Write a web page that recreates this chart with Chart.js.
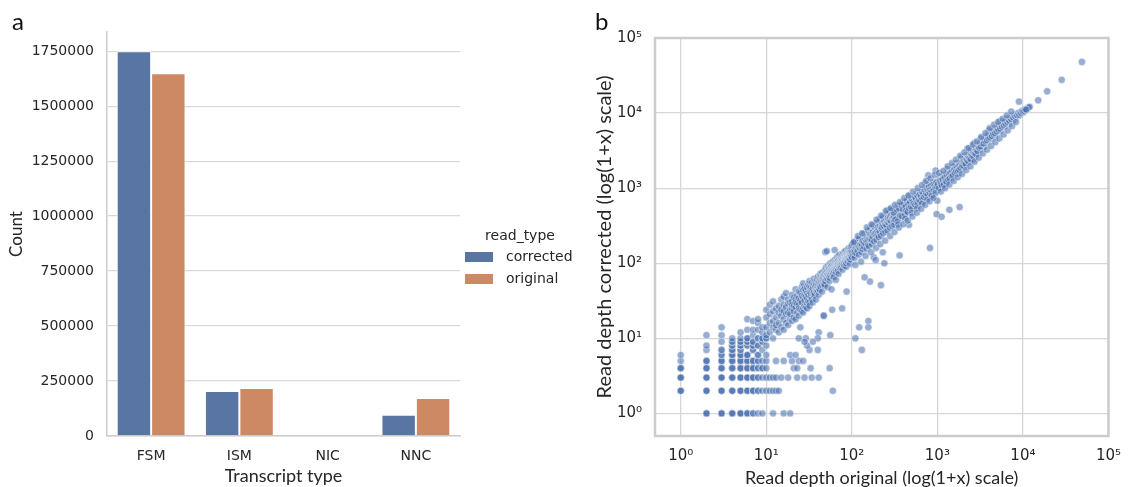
<!DOCTYPE html>
<html><head><meta charset="utf-8">
<script src="https://cdn.jsdelivr.net/npm/chart.js@4.4.0/dist/chart.umd.min.js"></script>
<style>
html,body{margin:0;padding:0;background:#fff;width:1132px;height:487px;overflow:hidden}
#wa{position:absolute;left:0;top:0;width:590px;height:487px}
#wb{position:absolute;left:590px;top:0;width:542px;height:487px}
</style></head><body>
<div id="wa"><canvas id="ca" width="590" height="487"></canvas></div>
<div id="wb"><canvas id="cb" width="542" height="487"></canvas></div>
<script>
// ---------- Panel a data ----------
const transcriptTypes = ['FSM', 'ISM', 'NIC', 'NNC'];
const readTypes = ['corrected', 'original'];
const countCorrected = [1750000, 205000, 0, 97000];
const countOriginal = [1650000, 218000, 0, 173000];
const countTicks = [0, 250000, 500000, 750000, 1000000, 1250000, 1500000, 1750000];
const countMax = 1837500;

// ---------- Panel b data ----------
const depthTicks = [1, 10, 100, 1000, 10000, 100000];
const depthTickLabels = ['10⁰', '10¹', '10²', '10³', '10⁴', '10⁵'];
const depthMin = 0.5;
const depthMax = 100000;
// low depths: [original, corrected, number of overlapping transcripts]
const depthLow = [
[1,2,3],[1,3,3],[1,4,3],[1,5,1],[1,6,1],
[2,1,3],[2,2,3],[2,3,3],[2,4,3],[2,5,3],[2,7,1],[2,8,1],[2,11,1],
[3,1,3],[3,2,3],[3,3,3],[3,4,3],[3,5,3],[3,6,2],[3,7,2],[3,9,1],[3,11,1],[3,14,1],
[4,1,3],[4,2,3],[4,3,3],[4,4,3],[4,5,3],[4,6,3],[4,7,3],[4,8,2],[4,9,2],[4,10,1],
[5,1,3],[5,2,3],[5,3,3],[5,4,3],[5,5,3],[5,6,3],[5,7,2],[5,8,2],[5,9,2],[5,10,1],[5,12,1],
[6,1,3],[6,2,3],[6,3,3],[6,4,3],[6,5,3],[6,6,3],[6,8,2],[6,9,2],[6,10,2],[6,13,1],[6,18,1],
[7,1,2],[7,2,3],[7,3,3],[7,4,3],[7,5,3],[7,7,2],[7,8,2],[7,9,2],[7,11,1],[7,13,1],[7,17,1],
[8,1,1],[8,2,2],[8,3,2],[8,4,2],[8,5,2],[8,6,2],[8,8,2],[8,10,2],[8,13,1],[8,16,1],[8,18,1],
[9,1,1],[9,2,1],[9,3,1],[9,4,2],[9,5,1],[9,7,1],[9,9,2],[9,10,2],[9,12,1],[9,14,1],
[10,2,1],[10,3,1],[10,4,1],[10,5,1],[10,6,1],[10,8,1],[10,10,2],
[11,2,1],[12,2,1],[13,2,1],[14,2,1],[12,1,1],[16,1,1],[19,1,1],
[11,3,1],[12,3,1],[13,3,1],[15,3,1],[18,3,1],[23,3,1],[28,3,1],[34,3,1],[41,3,1],[60,2,1],
[21,4,1],[23,4,1],[33,4,1],[55,4,1],[13,5,1],[16,5,1],[20,5,1],[24,5,1],[27,5,1],[19,6,1],[22,6,1],
[32,7,1],[40,7,1],[41,12,1],[56,11,1],[40,10,1],[29,10,1],[35,9,1],[30,8,1],[24,10,1],[28,9,1],
[110,10,1],[122,14,1],[131,7,1],[156,17,1],[156,14,1],[47,20,1]
];
// higher depths: [original, [corrected values at that original depth]]
const depthBand = [
[10,[11,14,19,24]],[11,[12,16,21,28]],[12,[10,14,17,23,31]],[13,[13,19,25,15]],[14,[12,16,22,27]],
[15,[14,20,24,33]],[16,[13,18,23,28,36]],[17,[16,21,26,40]],[18,[15,22,29,33]],[19,[18,24,30,21]],
[20,[17,25,31,38,28]],[21,[19,27,35,23]],[22,[18,26,33,45,30]],[23,[22,29,37]],[24,[20,28,34,42,25]],
[25,[24,32,41,14]],[26,[23,30,37,48]],[27,[25,35,44,54,22]],[28,[27,38,46,32]],[29,[26,36,43]],
[30,[29,40,48,34,25]],[31,[31,38,52]],[32,[30,42,49,58,27]],
[33,[36,47,40]],[34,[33,44,55]],[35,[39,50,46,30]],[36,[37,41,53,62]],[37,[38,48,57]],[38,[44,55,51,33]],
[39,[46,60,42]],[40,[43,54,66,50]],[41,[47,58,38]],[42,[44,52,64,56,45]],[43,[49,61,72]],[44,[55,66,59]],
[45,[51,63,75,42]],[46,[57,68,62]],[47,[54,72,65,20]],[48,[50,60,70,80,52]],[49,[58,74,141]],[50,[63,78,68,88]],
[51,[66,75,145]],[52,[62,80,71,48]],[53,[70,84,93]],[54,[67,77,88]],[55,[58,73,85,64]],[56,[70,90,78,100]],
[57,[76,86,95]],[58,[74,92,81,45]],[59,[80,96,24]],[60,[77,88,105,66]],[61,[83,94,72]],[62,[66,80,100,88]],
[63,[86,97,150,110]],[64,[84,92,104]],[65,[88,101,76,60]],[66,[90,109,84]],[67,[92,102,120]],[68,[88,105,96]],
[69,[95,112,80]],[70,[72,93,108,125,100]],[72,[98,114,87,130]],[73,[102,92]],[74,[97,118,108]],[75,[103,125,88]],
[76,[106,115,95]],[77,[101,122,25]],[78,[82,108,131,112]],[80,[106,118,138,96]],[81,[112,100]],[82,[116,128,92]],
[83,[110,142,121]],[84,[118,106,130]],[85,[113,125,147]],[86,[90,120,100]],[87,[116,133,42]],[88,[124,140,110]],
[89,[121,129]],[90,[126,145,117,105]],[92,[124,137,158]],[93,[130,112]],[94,[127,141,119]],[95,[98,134,150]],
[96,[129,142,112]],[98,[136,148,124,165]],
[100,[120,142,175]],[104,[141,128,182]],[108,[118,152,195,140]],[113,[160,135]],[117,[147,173,205]],
[121,[130,166,212]],[125,[158,178]],[130,[140,168,210,180]],[134,[196,155]],[139,[165,188,250]],
[141,[65]],[144,[182,212]],[149,[155,199,230]],[154,[175,207,270]],[159,[168,215]],[163,[57,230]],
[165,[210,245,292]],[171,[180,232,205]],[176,[226,258,318]],[180,[120]],[182,[195,244]],[188,[240,290,254]],
[190,[110]],[194,[205,262,345]],[200,[235,270,300]],[206,[222,281]],[212,[262,310,388]],[219,[51,232,292]],
[225,[282,340,304]],[230,[140]],[232,[250,318,418]],[240,[100,308,365]],[247,[262,331]],[254,[320,380,450]],
[262,[272,354,400]],[263,[505]],[270,[345,385]],[275,[515,490]],[279,[298,371,412]],[288,[362,440]],
[296,[312,400,512]],[305,[390,425,416]],[312,[357]],[313,[325,418,475]],
[318,[504]],[327,[412]],[331,[482]],[340,[407]],[347,[586]],[352,[458]],[360,[398]],[362,[127]],[366,[547]],
[375,[478]],[381,[530]],[390,[456]],[398,[647]],[404,[536]],[413,[505]],[420,[600]],[428,[456]],[436,[658]],
[445,[570]],[452,[520]],[461,[630]],[465,[325]],[470,[781]],[476,[564]],[486,[612]],[495,[515]],[505,[690]],
[513,[610]],[525,[750]],[534,[580]],[545,[680]],[556,[655]],[565,[560]],[578,[860]],[588,[670]],[600,[760]],
[613,[650]],[624,[745]],[637,[850]],[650,[715]],[662,[800]],[676,[670]],[690,[965]],[703,[800]],[718,[760]],
[725,[1170]],[732,[895]],[746,[810]],[762,[1090]],[776,[765]],[783,[1480]],[790,[905]],[806,[840]],[820,[160]],
[822,[1030]],[838,[910]],[855,[805]],[872,[1020]],[890,[930]],[908,[1190]],[925,[905]],[944,[1050]],[955,[1720]],
[962,[1150]],[980,[450]],[982,[990]],[998,[1070]],[1000,[680]],
[1015,[960]],[1032,[1170]],[1050,[1080]],[1068,[1400]],[1085,[1060]],[1105,[1220]],[1120,[415]],[1122,[1010]],
[1142,[1340]],[1160,[1220]],[1182,[1180]],[1200,[1490]],[1222,[1310]],[1243,[1150]],[1265,[1450]],[1286,[1310]],
[1310,[1790]],[1332,[1400]],[1356,[1300]],[1380,[1540,515]],[1404,[1680]],[1428,[1440]],[1453,[1570]],[1478,[1350]],
[1504,[1900]],[1530,[1610]],[1557,[1540]],[1584,[1830]],[1612,[1660]],[1640,[2140]],[1668,[1580]],[1697,[1870]],
[1727,[1820]],[1757,[1570]],[1788,[2110]],[1820,[1840,560]],[1852,[2080]],[1884,[1980]],[1917,[2570]],[1950,[1890]],
[1984,[2170]],[2019,[2060]],[2054,[2480]],[2090,[1950]],[2127,[2370]],[2164,[2270]],[2202,[2770]],[2240,[2210]],
[2250,[3400]],[2280,[2590]],[2320,[2420]],[2360,[2810]],[2402,[2280]],[2444,[2620]],[2487,[3270]],[2530,[2550]],
[2575,[2840]],[2620,[2420]],[2666,[3080]],[2690,[3980]],[2713,[2860]],[2760,[3400]],[2810,[2750]],[2860,[3130]],
[2910,[3000]],[2960,[3740]],
[3010,[3250]],[3070,[3810]],[3130,[3240]],[3190,[3740]],[3250,[4560]],[3320,[3700]],[3390,[4090]],[3460,[3500]],
[3530,[4460]],[3600,[4140]],[3680,[3890]],[3760,[4970]],[3840,[4500]],[3920,[4280]],[4000,[5890]],[4090,[4900]],
[4180,[4510]],[4270,[5430]],[4370,[6000]],[4460,[5190]],[4560,[5640]],[4660,[4810]],[4770,[6300]],[4880,[5860]],
[4990,[5630]],[5110,[6620]],[5230,[6280]],[5350,[5780]],[5400,[7800]],[5480,[6900]],[5610,[6460]],[5750,[7730]],
[5890,[7000]],[6040,[6640]],[6190,[7790]],[6350,[7330]],[6510,[8520]],[6680,[7750]],[6860,[7160]],[7040,[8340]],
[7230,[8000]],[7420,[9130]],[7620,[8500]],[7830,[8080]],[8040,[9200]],[8260,[8800]],[8480,[9800]],[8700,[9400]],
[8930,[9200]],[9000,[14200]],[9170,[9900]],[9420,[9700]],[9680,[10400]],[9940,[10300]],[10200,[10200]],
[10480,[10900]],[10760,[11000]],[10900,[11100]],[11050,[11400]],[11100,[11300]],[11200,[11250]],[11350,[11600]],
[11650,[11900]],[12000,[12100]],[15100,[14800]],[19200,[19500]],[28400,[27700]],[49000,[48000]]
];
// further transcripts in the upper band: [original, corrected]
const depthBandExtra = [
[308,470],[322,380],[336,520],[344,360],[355,540],[368,430],[379,590],[386,420],[395,520],[408,610],[417,440],[425,560],
[433,500],[441,690],[449,480],[458,610],[467,540],[480,650],[490,560],[500,720],[509,540],[519,660],[530,620],[540,770],
[550,600],[561,720],[572,640],[584,800],[594,630],[606,700],[618,820],[630,680],[643,780],[656,900],[668,720],[682,850],
[696,760],[710,950],[724,800],[739,860],[753,1000],[768,830],[783,930],[798,1050],[814,870],[830,960],[846,1100],[863,900],
[880,1000],[898,1130],[916,950],[934,1080],[952,1000],[970,1200],[990,1040],
[350,330],[420,390],[500,470],[580,540],[660,620],[760,700],[860,790],[950,860],
[1008,1120],[1040,1000],[1076,1250],[1095,1140],[1130,1080],[1150,1300],[1190,1120],[1210,1380],[1250,1250],[1275,1200],
[1300,1480],[1340,1300],[1365,1560],[1395,1350],[1420,1600],[1465,1450],[1490,1700],[1520,1480],[1560,1760],[1595,1600],
[1625,1820],[1660,1680],[1690,1950],[1740,1700],[1770,1980],[1805,1760],[1840,2100],[1870,1870],[1905,2200],[1940,1980],
[1970,2300],[2010,2000],[2045,2300],[2080,2150],[2110,2500],[2150,2100],[2190,2450],[2230,2350],[2270,2700],[2300,2260],
[2340,2650],[2380,2500],[2420,2900],[2460,2420],[2500,2800],[2550,2680],[2600,3050],[2640,2650],[2690,3000],[2740,2880],
[2790,3300],[2840,2850],[2890,3250],[2940,3100],[2990,3500],
[3040,3600],[3100,3450],[3160,4000],[3220,3600],[3290,4200],[3350,3900],[3420,4350],[3490,3950],[3560,4600],[3640,4250],
[3720,4700],[3800,4350],[3880,4900],[3960,4600],[4050,5200],[4130,4750],[4220,5350],[4320,4950],[4410,5600],[4510,5300],
[4610,5900],[4720,5400],[4830,6100],[4940,5700],[5050,6300],[5170,6000],[5290,6700],[5420,6200],[5550,7000],[5680,6600],
[5820,7300],[5960,6900],[6110,7600],[6260,7200],[6420,7900],[6590,7600],[6760,8200],[6940,7900],[7130,8600],[7320,8300],
[7520,8900],[7730,8700],[7940,9300],[8150,9000],[8370,9600],[8600,9300],[8820,10000],[9060,9500],[9300,10200],[9550,10000],
[9800,10700],[10050,10400],[10350,10700],[10650,11200],[10950,11150]
];
// transcripts on the outer edges of the band: [original, corrected]
const depthBandEdge = [
[105,190],[118,230],[132,250],[150,300],[170,330],[195,380],[220,430],[250,500],[285,540],[320,600],[365,650],[410,740],
[460,800],[520,900],[590,1000],[660,1100],[740,1250],[830,1350],[930,1500],
[110,95],[128,105],[145,125],[168,140],[192,160],[215,180],[245,200],[280,230],[315,260],[355,300],[400,330],[450,370],
[510,420],[575,470],[645,530],[720,600],[810,670],[900,740],
[1050,1600],[1180,1700],[1320,1950],[1480,2150],[1650,2400],[1850,2700],[2070,3000],[2320,3400],[2600,3800],[2900,4200],
[3250,4800],[3650,5400],[4100,6300],[4600,7000],[5150,7600],[5800,8400],[6500,9300],[7300,10500],
[1100,900],[1230,1000],[1380,1120],[1550,1250],[1730,1400],[1940,1550],[2170,1750],[2430,1950],[2720,2250],[3050,2550],
[3400,2900],[3800,3250],[4250,3650],[4750,4100],[5300,4600],[5950,5200],[6650,5900],[7450,6700],[8300,7600]
];

// ---------- styling ----------
const TXT = '#262626';
const TICKFONT = {family: 'DejaVu Sans', size: 14};
const TICKFONT_B = {family: 'DejaVu Sans', size: 15};
const TITLEFAMILY = 'Lato';
const barColors = ['#5975a4', '#cc8963'];

const panelLabel = {
  id: 'panelLabel',
  afterDraw(chart, args, o) {
    const ctx = chart.ctx;
    ctx.save();
    ctx.font = '24px ' + TITLEFAMILY;
    ctx.fillStyle = '#111';
    ctx.textBaseline = 'alphabetic';
    ctx.fillText(o.text, o.x, o.y);
    ctx.restore();
  }
};

const sideLegend = {
  id: 'sideLegend',
  afterDraw(chart, args, o) {
    if (!o.show) return;
    const {ctx, chartArea} = chart;
    const r = chartArea.right;
    const cy = (chartArea.top + chartArea.bottom) / 2;
    ctx.save();
    ctx.font = '14px "DejaVu Sans"';
    ctx.fillStyle = TXT;
    ctx.textAlign = 'center';
    ctx.textBaseline = 'middle';
    ctx.fillText(o.title, r + 60, cy + 2);
    ctx.textAlign = 'left';
    chart.data.datasets.forEach((ds, i) => {
      const y = cy + 23 + i * 22;
      ctx.fillStyle = ds.backgroundColor;
      ctx.fillRect(r + 5, y - 5, 28, 10);
      ctx.fillStyle = TXT;
      ctx.fillText(ds.label, r + 46, y);
    });
    ctx.restore();
  }
};

const boxBorder = {
  id: 'boxBorder',
  afterDatasetsDraw(chart, args, o) {
    if (!o.show) return;
    const {ctx, chartArea: a} = chart;
    ctx.save();
    ctx.strokeStyle = '#cccccc';
    ctx.lineWidth = 2.5;
    ctx.strokeRect(a.left, a.top, a.right - a.left, a.bottom - a.top);
    ctx.restore();
  }
};

function draw() {
  new Chart(document.getElementById('ca'), {
    type: 'bar',
    data: {
      labels: transcriptTypes,
      datasets: [
        {label: readTypes[0], data: countCorrected, backgroundColor: barColors[0], borderColor: '#ffffff', borderWidth: 1, categoryPercentage: 0.78, barPercentage: 1},
        {label: readTypes[1], data: countOriginal, backgroundColor: barColors[1], borderColor: '#ffffff', borderWidth: 1, categoryPercentage: 0.78, barPercentage: 1}
      ]
    },
    options: {
      responsive: false, animation: false, devicePixelRatio: 1,
      layout: {padding: {top: 32, right: 130, bottom: 0, left: 0}},
      plugins: {
        legend: {display: false}, tooltip: {enabled: false},
        sideLegend: {show: true, title: 'read_type'},
        panelLabel: {text: 'a', x: 12, y: 30}
      },
      scales: {
        x: {
          grid: {display: false, drawTicks: false},
          border: {display: true, color: '#cccccc', width: 1.5},
          ticks: {font: TICKFONT, color: TXT, padding: 12},
          title: {display: true, text: 'Transcript type', color: TXT, font: {family: TITLEFAMILY, size: 18, lineHeight: 1}, padding: {top: 0, bottom: 2}},
          afterFit(s) { s.height = 51; }
        },
        y: {
          min: 0, max: countMax,
          afterBuildTicks(s) { s.ticks = countTicks.map(v => ({value: v})); },
          ticks: {font: TICKFONT, color: TXT, padding: 13, callback: v => String(v)},
          grid: {color: '#d9d9d9', lineWidth: 1.3, drawTicks: false},
          border: {display: true, color: '#cccccc', width: 1.5},
          title: {display: true, text: 'Count', color: TXT, font: {family: TITLEFAMILY, size: 17, lineHeight: 1.2}, padding: {top: 6, bottom: 0}},
          afterFit(s) { s.width = 107; }
        }
      }
    },
    plugins: [sideLegend, panelLabel]
  });

  const pts = [];
  depthLow.forEach(([o, c, n]) => { for (let k = 0; k < n; k++) pts.push({x: o, y: c}); });
  depthBand.forEach(([o, cs]) => cs.forEach(c => pts.push({x: o, y: c})));
  depthBandExtra.forEach(([o, c]) => pts.push({x: o, y: c}));
  depthBandEdge.forEach(([o, c]) => pts.push({x: o, y: c}));

  const logAxis = (isX) => ({
    type: 'logarithmic', min: depthMin, max: depthMax,
    afterBuildTicks(s) { s.ticks = depthTicks.map(v => ({value: v})); },
    ticks: {font: TICKFONT_B, color: TXT, padding: isX ? 11 : 13, autoSkip: false, maxRotation: 0,
      callback: (v, i) => depthTickLabels[i]},
    grid: {color: '#d6d6d6', lineWidth: 1.3, drawTicks: false},
    border: {display: false},
    title: isX
      ? {display: true, text: 'Read depth original (log(1+x) scale)', color: TXT, font: {family: TITLEFAMILY, size: 18, lineHeight: 1}, padding: {top: 0, bottom: 0}}
      : {display: true, text: 'Read depth corrected (log(1+x) scale)', color: TXT, font: {family: TITLEFAMILY, size: 20, lineHeight: 1.2}, padding: {top: 3, bottom: 0}},
    afterFit(s) { if (isX) s.height = 51; else s.width = 65; }
  });

  new Chart(document.getElementById('cb'), {
    type: 'scatter',
    data: {datasets: [{
      label: 'transcripts', data: pts,
      backgroundColor: 'rgba(76,114,176,0.58)', borderColor: 'rgba(255,255,255,0.75)', borderWidth: 0.6,
      pointRadius: 3.6, pointHoverRadius: 3.6
    }]},
    options: {
      responsive: false, animation: false, devicePixelRatio: 1,
      layout: {padding: {top: 38, right: 13, bottom: 0, left: 0}},
      plugins: {
        legend: {display: false}, tooltip: {enabled: false},
        boxBorder: {show: true},
        panelLabel: {text: 'b', x: 5, y: 30}
      },
      scales: {x: logAxis(true), y: logAxis(false)}
    },
    plugins: [boxBorder, panelLabel]
  });
}

const fontsReady = document.fonts && document.fonts.load
  ? Promise.all(['14px "DejaVu Sans"', '18px Lato', '24px Lato'].map(f => document.fonts.load(f))).catch(() => {})
  : Promise.resolve();
fontsReady.then(draw);
</script>
</body></html>
